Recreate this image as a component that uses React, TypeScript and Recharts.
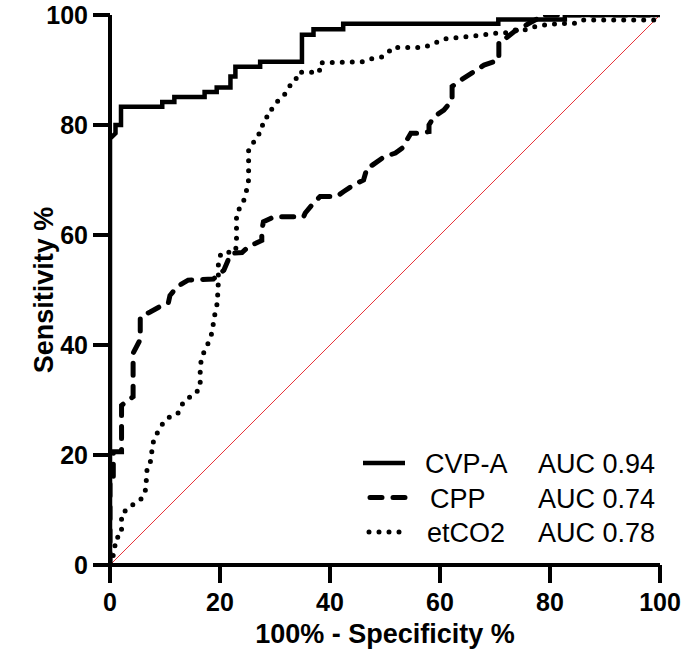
import { LineChart, Line, XAxis, YAxis, Label, Legend } from "recharts";

const FONT = "'Liberation Sans', Arial, Helvetica, sans-serif";

const xTicks = [0, 20, 40, 60, 80, 100];
const yTicks = [0, 20, 40, 60, 80, 100];
const seriesNames = ["CVP-A", "CPP", "etCO2"];
const aucLabels = ["AUC 0.94", "AUC 0.74", "AUC 0.78"];

// [100% - specificity, sensitivity]
const cvpA: [number, number][] = [
  [0, 0], [0, 77.5], [1, 78.5], [1, 80], [2, 80], [2, 83.3], [9.5, 83.3], [9.5, 84.2],
  [11.7, 84.2], [11.7, 85.1], [17.2, 85.1], [17.2, 86], [19.4, 86], [19.4, 86.8],
  [21.9, 86.8], [21.9, 88.8], [22.8, 88.8], [22.8, 90.6], [27.3, 90.6], [27.3, 91.5],
  [34.9, 91.5], [34.9, 96.4], [37, 96.4], [37, 97.4], [42.4, 97.4], [42.4, 98.4],
  [70.6, 98.4], [70.6, 99.2], [82.7, 99.2], [82.7, 100], [100, 100],
];

const cpp: [number, number][] = [
  [0, 0], [0, 16], [0.6, 16], [0.6, 20.6], [2.1, 20.6], [2.1, 29], [3.3, 30], [4.2, 30.6],
  [4.2, 38.5], [5.5, 41], [5.5, 45.1], [7.3, 46], [9.1, 47], [10.6, 47.6], [10.9, 49],
  [12.2, 50.6], [14.2, 51.8], [18.8, 52], [20.7, 53.6], [21.5, 55.5], [22.2, 56.7],
  [24, 56.8], [25.2, 57.9], [27.6, 59], [27.6, 60.9], [27.9, 62.4], [29.8, 63.3],
  [35.2, 63.3], [35.5, 64], [37, 65.8], [38.2, 67], [41.2, 67], [42.5, 67.9], [44.3, 69.1],
  [46.1, 70], [46.8, 72.4], [47.7, 72.7], [49.8, 74.2], [51.9, 74.9], [53.1, 75.8],
  [54.7, 78.5], [56.5, 78.5], [58, 78.8], [58, 80], [58.9, 81.5], [60.7, 82.7],
  [62.2, 84.5], [62.2, 87], [63.8, 88.2], [66.2, 89.7], [68, 90.9], [69.8, 91.5],
  [70.7, 91.8], [70.7, 95.2], [72, 95.8], [73.5, 97], [74.7, 97.6], [76.2, 98.5],
  [77.7, 99.3], [78.2, 100], [100, 100],
];

const etco2: [number, number][] = [
  [0, 0], [0.9, 2.7], [0.9, 4.7], [2.1, 5.5], [2.1, 9.3], [3.4, 10.3], [4.3, 11.1],
  [5.5, 11.8], [6.3, 12.9], [6.6, 14.5], [6.6, 16.5], [6.9, 18.2], [7.6, 19.2],
  [7.6, 21.1], [8, 22.9], [8.8, 24.4], [9.7, 25.9], [10.8, 26.9], [12.3, 27.5],
  [13.1, 29.2], [14, 30.3], [15.3, 30.9], [16.4, 32.3], [16.4, 36], [16.7, 37.9],
  [17.6, 39.7], [18.5, 42.1], [19.1, 45.8], [19.5, 47.6], [19.7, 51.5], [19.7, 55.1],
  [20.2, 56.7], [22.8, 57], [23, 58.5], [23, 64], [24, 65.5], [24.6, 67], [25.2, 70],
  [25.2, 75.3], [25.8, 76.5], [27, 77.9], [27.3, 79.6], [28.4, 80.5], [28.6, 82.2],
  [29.9, 83.3], [30.7, 84.7], [31.8, 85.6], [32.7, 87.1], [33.7, 88], [34.2, 89.6],
  [38.1, 89.6], [38.1, 91.3], [45.9, 91.5], [47.7, 92.1], [49.5, 92.4], [50.7, 93.3],
  [51.3, 94.1], [57.1, 94.1], [58.9, 94.8], [60.7, 95.6], [62, 95.8], [66.2, 96.2],
  [68, 96.4], [69.8, 96.7], [71.7, 96.7], [73.8, 97.3], [75.6, 97.3], [77.4, 97.9],
  [79.2, 98.2], [81.1, 98.4], [84.7, 98.5], [85.9, 99.1], [99.3, 99.1], [100, 100],
];

const chance: [number, number][] = [[0, 0], [100, 100]];

const toRows = (pts: [number, number][]) => pts.map(([x, y]) => ({ x, y }));

const lineStyles = [
  { strokeWidth: 4.5, strokeDasharray: undefined, strokeLinecap: "butt", x1: 363, x2: 405, textX: 425 },
  { strokeWidth: 5, strokeDasharray: "12 11", strokeLinecap: "round", x1: 370, x2: 410, textX: 430 },
  { strokeWidth: 5, strokeDasharray: "0 10", strokeLinecap: "round", x1: 369, x2: 402, textX: 427 },
] as const;

const seriesData = [cvpA, cpp, etco2];

function XTitle(props: any) {
  const vb = props.viewBox || { x: 110, y: 565, width: 550 };
  return (
    <text x={vb.x + vb.width / 2} y={vb.y + 78} textAnchor="middle" fontFamily={FONT} fontSize={27} fontWeight={700} fill="#000">
      100% - Specificity %
    </text>
  );
}

function YTitle(props: any) {
  const vb = props.viewBox || { x: 0, y: 15, height: 550 };
  const cx = 53;
  const cy = vb.y + vb.height / 2;
  return (
    <text x={cx} y={cy} transform={`rotate(-90 ${cx} ${cy})`} textAnchor="middle" fontFamily={FONT} fontSize={27} fontWeight={700} fill="#000">
      Sensitivity %
    </text>
  );
}

function LegendBox() {
  return (
    <svg width={687} height={668} style={{ display: "block" }}>
      {seriesNames.map((name, i) => {
        const s = lineStyles[i];
        const y = 463 + i * 34.5;
        return (
          <g key={name}>
            <line x1={s.x1} x2={s.x2} y1={y} y2={y} stroke="#000" strokeWidth={s.strokeWidth} strokeDasharray={s.strokeDasharray} strokeLinecap={s.strokeLinecap} />
            <text x={s.textX} y={y + 10} fontFamily={FONT} fontSize={27} fill="#000">{name}</text>
            <text x={538} y={y + 10} fontFamily={FONT} fontSize={27} fill="#000">{aucLabels[i]}</text>
          </g>
        );
      })}
    </svg>
  );
}

export default function App() {
  const tickStyle = { fill: "#000", fontSize: 25, fontWeight: 700, fontFamily: FONT };
  return (
    <div style={{ position: "absolute", left: 0, top: 0, background: "#fff" }}>
      <LineChart width={687} height={668} margin={{ top: 15, right: 27, bottom: 0, left: 0 }}>
        <XAxis
          type="number"
          dataKey="x"
          domain={[0, 100]}
          ticks={xTicks}
          interval={0}
          allowDataOverflow
          height={103}
          tickSize={18}
          tickMargin={10}
          axisLine={{ stroke: "#000", strokeWidth: 4 }}
          tickLine={{ stroke: "#000", strokeWidth: 4 }}
          tick={tickStyle}
        >
          <Label content={XTitle} />
        </XAxis>
        <YAxis
          type="number"
          dataKey="y"
          domain={[0, 100]}
          ticks={yTicks}
          interval={0}
          allowDataOverflow
          width={110}
          tickSize={17}
          tickMargin={5}
          axisLine={{ stroke: "#000", strokeWidth: 4 }}
          tickLine={{ stroke: "#000", strokeWidth: 4 }}
          tick={tickStyle}
        >
          <Label content={YTitle} />
        </YAxis>
        <Line data={toRows(chance)} dataKey="y" type="linear" stroke="#e8333a" strokeWidth={1} dot={false} activeDot={false} isAnimationActive={false} />
        {seriesData.map((pts, i) => (
          <Line
            key={seriesNames[i]}
            name={seriesNames[i]}
            data={toRows(pts)}
            dataKey="y"
            type="linear"
            stroke="#000"
            strokeWidth={lineStyles[i].strokeWidth}
            strokeDasharray={lineStyles[i].strokeDasharray}
            strokeLinecap={lineStyles[i].strokeLinecap}
            strokeLinejoin="miter"
            dot={false}
            activeDot={false}
            isAnimationActive={false}
          />
        ))}
        <Legend
          verticalAlign="middle"
          align="center"
          content={LegendBox}
          wrapperStyle={{ left: 0, top: 0, width: 687, height: 668, pointerEvents: "none" }}
        />
      </LineChart>
    </div>
  );
}
